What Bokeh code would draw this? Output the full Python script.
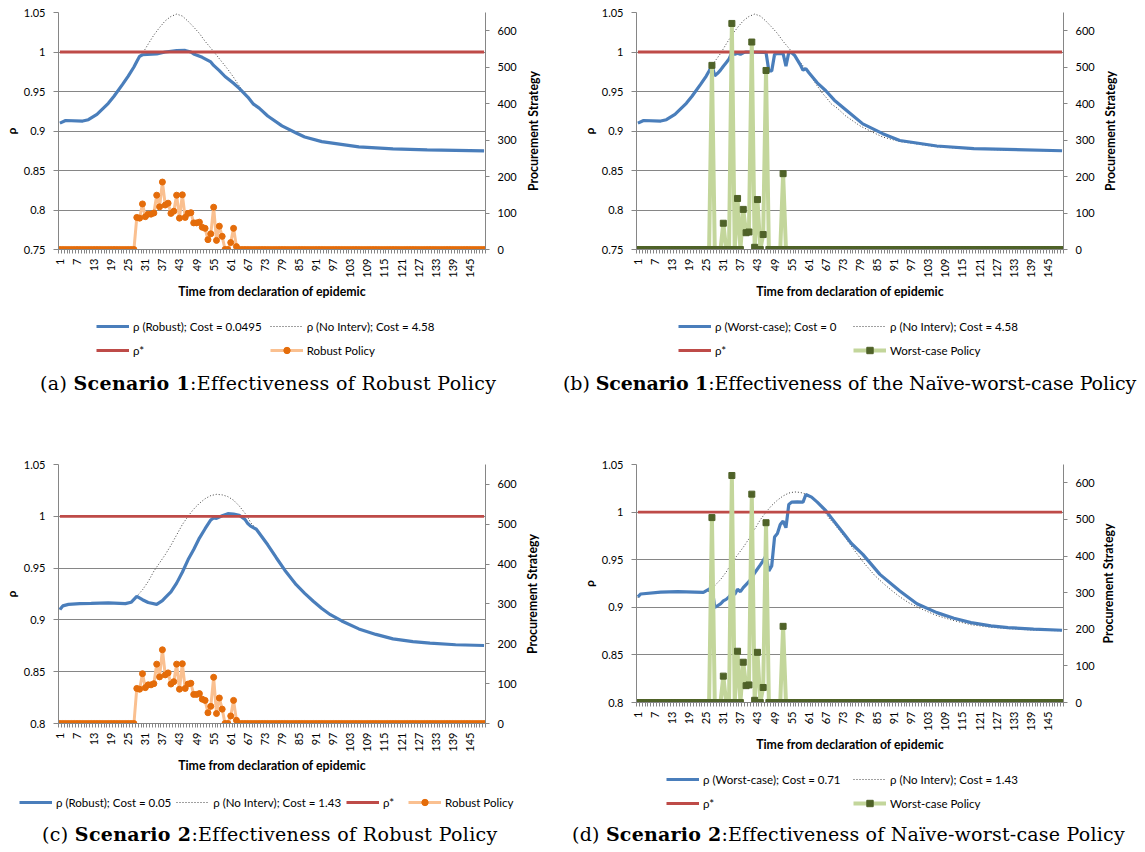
import math
from bokeh.plotting import figure
from bokeh.models import (Range1d, LinearAxis, FixedTicker, CustomJSTickFormatter,
                          Legend, LegendItem, Label, Div)
from bokeh.layouts import row, column
from bokeh.embed import file_html
from bokeh.resources import INLINE

# ------------------------------------------------------------------ data
days = list(range(1, 151))
x_tick_days = [1, 7, 13, 19, 25, 31, 37, 43, 49, 55, 61, 67, 73, 79, 85, 91,
               97, 103, 109, 115, 121, 127, 133, 139, 145]
y_ticks_s1 = [0.75, 0.8, 0.85, 0.9, 0.95, 1.0, 1.05]
y_ticks_s2 = [0.8, 0.85, 0.9, 0.95, 1.0, 1.05]
policy_ticks = [0, 100, 200, 300, 400, 500, 600]
rho_star = 1.0

# Scenario 1 -- rho (Robust)
s1_robust_days = [1, 3, 9, 11, 14, 18, 20, 23, 25, 27, 28, 29, 30, 35, 38, 42, 45, 47, 48, 51,
                  54, 55, 57, 59, 62, 64, 67, 69, 71, 74, 79, 84, 87, 93, 106, 118, 130, 150]
s1_robust_vals = [0.910, 0.9133, 0.9126, 0.9143, 0.921, 0.935, 0.944, 0.959, 0.9695, 0.981,
                  0.988, 0.9945, 0.9965, 0.9975, 1.0, 1.0017, 1.002, 1.0, 0.9975, 0.9933,
                  0.9874, 0.983, 0.9765, 0.969, 0.9605, 0.954, 0.943, 0.934, 0.929, 0.919,
                  0.9065, 0.8975, 0.8924, 0.8866, 0.880, 0.8773, 0.876, 0.8748]
# Scenario 1 -- rho (No Interv)
s1_nointerv_days = [1, 3, 9, 11, 14, 18, 20, 23, 25, 27, 28, 30, 32, 34, 36, 38, 40, 42, 44, 46,
                    48, 50, 52, 54, 56, 58, 60, 62, 64, 66, 67, 69, 71, 74, 79, 84, 87, 93, 106,
                    118, 130, 150]
s1_nointerv_vals = [0.910, 0.9133, 0.9126, 0.9143, 0.921, 0.935, 0.944, 0.959, 0.9695, 0.981,
                    0.988, 0.998, 1.010, 1.0215, 1.031, 1.0395, 1.045, 1.048, 1.0455, 1.039,
                    1.0315, 1.0235, 1.0135, 1.005, 0.996, 0.987, 0.978, 0.968, 0.957, 0.947,
                    0.943, 0.934, 0.929, 0.919, 0.9065, 0.8975, 0.8924, 0.8866, 0.880, 0.8773,
                    0.876, 0.8748]
# Scenario 1 -- rho (Worst-case)
s1_worst_days = [1, 3, 9, 11, 14, 18, 20, 23, 25, 26, 27, 28, 29, 30, 31, 32, 33, 34, 35, 36,
                 37, 38, 39, 46, 47, 48, 49, 50, 51, 52, 53, 54, 55, 56, 57, 58, 59, 60, 61, 64,
                 67, 70, 74, 80, 87, 93, 106, 119, 150]
s1_worst_vals = [0.910, 0.9133, 0.9126, 0.9143, 0.921, 0.935, 0.944, 0.959, 0.9695, 0.976,
                 0.983, 0.970, 0.973, 0.977, 0.982, 0.9865, 0.991, 0.9995, 0.997, 0.9985,
                 0.997, 0.999, 1.0, 0.9995, 0.976, 0.976, 0.997, 0.998, 0.998, 0.998,
                 0.982, 0.9995, 0.999, 0.996, 0.990, 0.984, 0.977, 0.979, 0.974, 0.961,
                 0.951, 0.939, 0.927, 0.909, 0.8966, 0.888, 0.881, 0.8777, 0.875]

# Scenario 2 -- rho (Robust)
s2_robust_days = [1, 2, 4, 8, 12, 18, 24, 26, 28, 30, 32, 35, 37, 38, 40, 42, 44, 46, 48, 50,
                  52, 54, 55, 56, 58, 60, 62, 64, 66, 67, 68, 70, 72, 74, 77, 80, 84, 87, 90, 93,
                  96, 100, 106, 112, 118, 125, 131, 140, 150]
s2_robust_vals = [0.910, 0.9135, 0.915, 0.9158, 0.916, 0.9164, 0.9157, 0.917, 0.9228, 0.9195,
                  0.9168, 0.915, 0.9186, 0.9215, 0.927, 0.9355, 0.946, 0.958, 0.968, 0.979,
                  0.988, 0.9965, 0.9985, 0.998, 1.0005, 1.0025, 1.0022, 1.001, 0.997, 0.993,
                  0.9905, 0.9875, 0.980, 0.9725, 0.960, 0.948, 0.934, 0.9256, 0.918, 0.911,
                  0.905, 0.899, 0.8913, 0.886, 0.8817, 0.879, 0.8776, 0.876, 0.8753]
# Scenario 2 -- rho (No Interv)
s2_nointerv_days = [1, 2, 4, 8, 12, 18, 24, 26, 28, 30, 32, 34, 36, 38, 40, 42, 44, 46, 48, 50,
                    52, 54, 56, 58, 60, 62, 64, 66, 67, 68, 70, 72, 74, 77, 80, 84, 87, 90, 93,
                    96, 100, 106, 112, 118, 125, 131, 140, 150]
s2_nointerv_vals = [0.910, 0.9135, 0.915, 0.9158, 0.916, 0.9164, 0.9157, 0.917, 0.9228, 0.929,
                    0.937, 0.947, 0.955, 0.963, 0.972, 0.982, 0.992, 1.0, 1.007, 1.0125,
                    1.017, 1.020, 1.0212, 1.0207, 1.019, 1.0155, 1.010, 1.003, 0.999, 0.994,
                    0.9875, 0.980, 0.9725, 0.960, 0.948, 0.934, 0.9256, 0.918, 0.911, 0.905,
                    0.899, 0.8913, 0.886, 0.8817, 0.879, 0.8776, 0.876, 0.8753]
# Scenario 2 -- rho (Worst-case)
s2_worst_days = [1, 2, 9, 15, 24, 26, 27, 28, 30, 31, 32, 33, 34, 35, 36, 37, 38, 40, 41, 42,
                 44, 45, 46, 47, 48, 49, 50, 51, 52, 53, 54, 55, 57, 59, 60, 62, 64, 67, 70, 73,
                 76, 80, 86, 93, 99, 106, 112, 118, 125, 131, 140, 150]
s2_worst_vals = [0.911, 0.914, 0.916, 0.9164, 0.9157, 0.919, 0.9213, 0.8998, 0.9035, 0.9068,
                 0.9083, 0.911, 0.9147, 0.9136, 0.9189, 0.9164, 0.9206, 0.927, 0.931, 0.936,
                 0.9445, 0.949, 0.9545, 0.9381, 0.9434, 0.9738, 0.9775, 0.987, 0.9906, 0.9836,
                 1.008, 1.0105, 1.0108, 1.0105, 1.0185, 1.0157, 1.0105, 1.0015, 0.990, 0.9785,
                 0.967, 0.9556, 0.9346, 0.9171, 0.9038, 0.8944, 0.8885, 0.8839, 0.8805, 0.8787,
                 0.877, 0.8759]

# Procurement strategies (secondary axis), one value per day 1..150
robust_active = [88, 86, 125, 90, 97, 97, 100, 149, 117, 185, 122, 127, 99, 105, 149, 86, 150,
                 88, 99, 101, 73, 73, 75, 61, 58, 27, 43, 116, 25, 64, 36, 0, 0, 19, 58, 8, 0]
robust_policy = [0] * 27 + robust_active + [0] * 86          # days 28..64 active
worst_active = [505, 0, 0, 0, 72, 0, 0, 620, 0, 140, 0, 110, 46, 48, 569, 6, 137, 0, 41, 491,
                0, 0, 0, 0, 0, 208]
worst_policy = [0] * 26 + worst_active + [0] * 98            # days 27..52 active
rho_stars = [rho_star] * len(days)

# ------------------------------------------------------------------ style
FONT = "Lato"
TXT = "#000000"
GRAY = "#868686"
BLUE = "#4A7EBB"
RED = "#BE4B48"
DOT = "#404040"
OR_LINE = "#FAC090"
OR_MARK = "#E46C0A"
GR_LINE = "#C3D69B"
GR_MARK = "#4F6228"
FRAME_W = 427
MB_TOP_S1, MB_TOP_S2, MB_BOTTOM = 12, 64, 54
TITLE_SIZE = "12.3px"


def no_align(fig):
    if "frame_align" in fig.properties():
        fig.frame_align = False


def series_styles(kind):
    if kind == "robust":
        return (dict(line_color=OR_LINE, line_width=3),
                dict(marker="circle", size=6, fill_color=OR_MARK, line_color=OR_MARK))
    return (dict(line_color=GR_LINE, line_width=4),
            dict(marker="square", size=6, fill_color=GR_MARK, line_color=GR_MARK))


def make_panel(mb_top, frame_h, y_ticks, rho_d, rho_v, ni_d, ni_v, policy, kind):
    width = 58 + FRAME_W + 35
    height = mb_top + frame_h + MB_BOTTOM
    p = figure(width=width, height=height, output_backend="svg", toolbar_location=None,
               x_range=Range1d(0.5, 150.5), y_range=Range1d(y_ticks[0], y_ticks[-1]),
               min_border_left=58, min_border_right=35,
               min_border_top=mb_top, min_border_bottom=MB_BOTTOM,
               outline_line_color=None, background_fill_color="white",
               border_fill_color="white")
    p.extra_y_ranges = {"pol": Range1d(0, 650)}

    # x axis (category-like: ticks between days, labels every 6 days)
    xa = p.xaxis[0]
    xa.ticker = FixedTicker(ticks=x_tick_days, minor_ticks=[d - 0.5 for d in days] + [150.5])
    xa.major_tick_out = 0
    xa.major_tick_in = 0
    xa.minor_tick_out = 4
    xa.minor_tick_in = 0
    xa.minor_tick_line_color = GRAY
    xa.axis_line_color = GRAY
    xa.major_label_orientation = math.pi / 2
    xa.major_label_standoff = 5
    xa.major_label_text_font = FONT
    xa.major_label_text_font_size = "11px"
    xa.major_label_text_color = TXT
    xa.axis_label = "Time from declaration of epidemic"
    xa.axis_label_text_font = FONT
    xa.axis_label_text_font_style = "bold"
    xa.axis_label_text_font_size = TITLE_SIZE
    xa.axis_label_text_color = TXT
    xa.axis_label_standoff = 3
    p.xgrid.visible = False

    # left axis
    yt = FixedTicker(ticks=y_ticks)
    ya = p.yaxis[0]
    ya.ticker = yt
    ya.formatter = CustomJSTickFormatter(code="return Number(tick.toFixed(2)).toString();")
    ya.major_tick_out = 5
    ya.major_tick_in = 0
    ya.minor_tick_out = 0
    ya.minor_tick_in = 0
    ya.major_tick_line_color = GRAY
    ya.axis_line_color = GRAY
    ya.major_label_standoff = 8
    ya.major_label_text_font = FONT
    ya.major_label_text_font_size = "11px"
    ya.major_label_text_color = TXT
    ya.axis_label = "ρ"
    ya.axis_label_text_font = FONT
    ya.axis_label_text_font_style = "bold"
    ya.axis_label_text_font_size = "12px"
    ya.axis_label_text_color = TXT
    ya.axis_label_standoff = 2
    p.ygrid[0].ticker = yt
    p.ygrid[0].grid_line_color = GRAY
    p.ygrid[0].grid_line_width = 1

    # right axis (procurement strategy)
    ra = LinearAxis(y_range_name="pol", ticker=FixedTicker(ticks=policy_ticks))
    ra.major_tick_out = 4
    ra.major_tick_in = 0
    ra.minor_tick_out = 0
    ra.minor_tick_in = 0
    ra.major_tick_line_color = GRAY
    ra.axis_line_color = GRAY
    ra.major_label_standoff = 8
    ra.major_label_text_font = FONT
    ra.major_label_text_font_size = "11px"
    ra.major_label_text_color = TXT
    p.add_layout(ra, "right")

    # series
    p.line(ni_d, ni_v, line_color=DOT, line_width=1, line_dash="1 2")
    p.line(rho_d, rho_v, line_color=BLUE, line_width=3.2)
    p.line(days, rho_stars, line_color=RED, line_width=2.8)
    lsty, msty = series_styles(kind)
    p.line(days, policy, y_range_name="pol", **lsty)
    p.scatter(days, policy, y_range_name="pol", **msty)
    return p


def right_title(width, mb_top, frame_h, xpos):
    """Secondary-axis title, read bottom to top, in its own strip."""
    t = figure(width=width, height=mb_top + frame_h + MB_BOTTOM, output_backend="svg",
               toolbar_location=None, x_range=Range1d(0, 1), y_range=Range1d(0, 1),
               min_border_left=0, min_border_right=0, min_border_top=mb_top,
               min_border_bottom=MB_BOTTOM, x_axis_location=None, y_axis_location=None,
               outline_line_color=None, background_fill_color="white",
               border_fill_color="white")
    t.grid.visible = False
    no_align(t)
    t.add_layout(Label(x=xpos, y=frame_h / 2, x_units="screen", y_units="screen",
                       text="Procurement Strategy", angle=math.pi / 2, text_align="center",
                       text_baseline="middle", text_font=FONT, text_font_style="bold",
                       text_font_size=TITLE_SIZE, text_color=TXT))
    return t


def make_legend(width, height, labels, rho_d, rho_v, ni_d, ni_v, policy, kind, loc, ncols,
                label_width, spacing):
    lp = figure(width=width, height=height, output_backend="svg", toolbar_location=None,
                x_range=Range1d(-20, -10), y_range=Range1d(-20, -10),
                min_border_left=0, min_border_right=0, min_border_top=0, min_border_bottom=0,
                x_axis_location=None, y_axis_location=None, outline_line_color=None,
                background_fill_color="white", border_fill_color="white")
    lp.grid.visible = False
    no_align(lp)
    # the same series (kept out of view here) supply the legend swatches
    r_rho = lp.line(rho_d, rho_v, line_color=BLUE, line_width=3.2)
    r_ni = lp.line(ni_d, ni_v, line_color=DOT, line_width=1, line_dash="1 2")
    r_star = lp.line(days, rho_stars, line_color=RED, line_width=2.8)
    lsty, msty = series_styles(kind)
    r_pl = lp.line(days, policy, **lsty)
    r_pm = lp.scatter(days, policy, **msty)
    items = [LegendItem(label=labels[0], renderers=[r_rho]),
             LegendItem(label=labels[1], renderers=[r_ni]),
             LegendItem(label="ρ*", renderers=[r_star]),
             LegendItem(label=labels[2], renderers=[r_pl, r_pm])]
    lg = Legend(items=items, location=loc, orientation="horizontal")
    if ncols:
        lg.ncols = ncols
    lg.padding = 0
    lg.margin = 0
    lg.spacing = spacing
    lg.glyph_width = 33
    lg.glyph_height = 16
    lg.label_height = 16
    lg.label_width = label_width
    lg.label_standoff = 4
    lg.label_text_font = FONT
    lg.label_text_font_size = "11.5px"
    lg.label_text_color = TXT
    lg.background_fill_alpha = 0
    lg.border_line_color = None
    lp.add_layout(lg)
    return lp


pa = make_panel(MB_TOP_S1, 237, y_ticks_s1, s1_robust_days, s1_robust_vals,
                s1_nointerv_days, s1_nointerv_vals, robust_policy, "robust")
pb = make_panel(MB_TOP_S1, 237, y_ticks_s1, s1_worst_days, s1_worst_vals,
                s1_nointerv_days, s1_nointerv_vals, worst_policy, "worst")
pc = make_panel(MB_TOP_S2, 259, y_ticks_s2, s2_robust_days, s2_robust_vals,
                s2_nointerv_days, s2_nointerv_vals, robust_policy, "robust")
pd_ = make_panel(MB_TOP_S2, 238, y_ticks_s2, s2_worst_days, s2_worst_vals,
                 s2_nointerv_days, s2_nointerv_vals, worst_policy, "worst")

ta = right_title(58, MB_TOP_S1, 237, 13)
tb = right_title(47, MB_TOP_S1, 237, 12)
tc = right_title(58, MB_TOP_S2, 259, 12)
td = right_title(47, MB_TOP_S2, 238, 10)

la = make_legend(578, 62, ["ρ (Robust); Cost = 0.0495", "ρ (No Interv); Cost = 4.58",
                           "Robust Policy"], s1_robust_days, s1_robust_vals,
                 s1_nointerv_days, s1_nointerv_vals, robust_policy, "robust",
                 (96, 7), 2, 128, 8)
lb = make_legend(567, 62, ["ρ (Worst-case); Cost = 0", "ρ (No Interv); Cost = 4.58",
                           "Worst-case Policy"], s1_worst_days, s1_worst_vals,
                 s1_nointerv_days, s1_nointerv_vals, worst_policy, "worst",
                 (100, 7), 2, 130, 8)
lc = make_legend(578, 47, ["ρ (Robust); Cost = 0.05", "ρ (No Interv); Cost = 1.43",
                           "Robust Policy"], s2_robust_days, s2_robust_vals,
                 s2_nointerv_days, s2_nointerv_vals, robust_policy, "robust",
                 (19, 14), None, 20, 5)
ld = make_legend(567, 68, ["ρ (Worst-case); Cost = 0.71", "ρ (No Interv); Cost = 1.43",
                           "Worst-case Policy"], s2_worst_days, s2_worst_vals,
                 s2_nointerv_days, s2_nointerv_vals, worst_policy, "worst",
                 (88, 13), 2, 142, 8)


def caption(letter, scen, rest, width, height, pad, lh, ls):
    html = ('<div style="font-family:\'DejaVu Serif\',serif;font-size:19px;'
            f'letter-spacing:{ls}px;line-height:{lh}px;white-space:nowrap;'
            f'padding-left:{pad}px;color:#000;">'
            f'({letter}) <b>Scenario {scen}</b>:{rest}</div>')
    return Div(text=html, width=width, height=height, margin=(0, 0, 0, 0))


ca = caption("a", 1, "Effectiveness of Robust Policy", 556, 35, 40, 36, 0.33)
cb = caption("b", 1, "Effectiveness of the Naïve-worst-case Policy", 589, 35, 7, 36, -0.08)
cc = caption("c", 2, "Effectiveness of Robust Policy", 556, 28, 42, 20, 0.33)
cd = caption("d", 2, "Effectiveness of Naïve-worst-case Policy", 589, 28, 16, 20, 0.22)

top = row(column(row(pa, ta, spacing=0), la, spacing=0),
          column(row(pb, tb, spacing=0), lb, spacing=0), spacing=0)
bottom = row(column(row(pc, tc, spacing=0), lc, spacing=0),
             column(row(pd_, td, spacing=0), ld, spacing=0), spacing=0)
layout = column(top, row(ca, cb, spacing=0), bottom, row(cc, cd, spacing=0), spacing=0)

open("out.html", "w").write(file_html(layout, INLINE))
